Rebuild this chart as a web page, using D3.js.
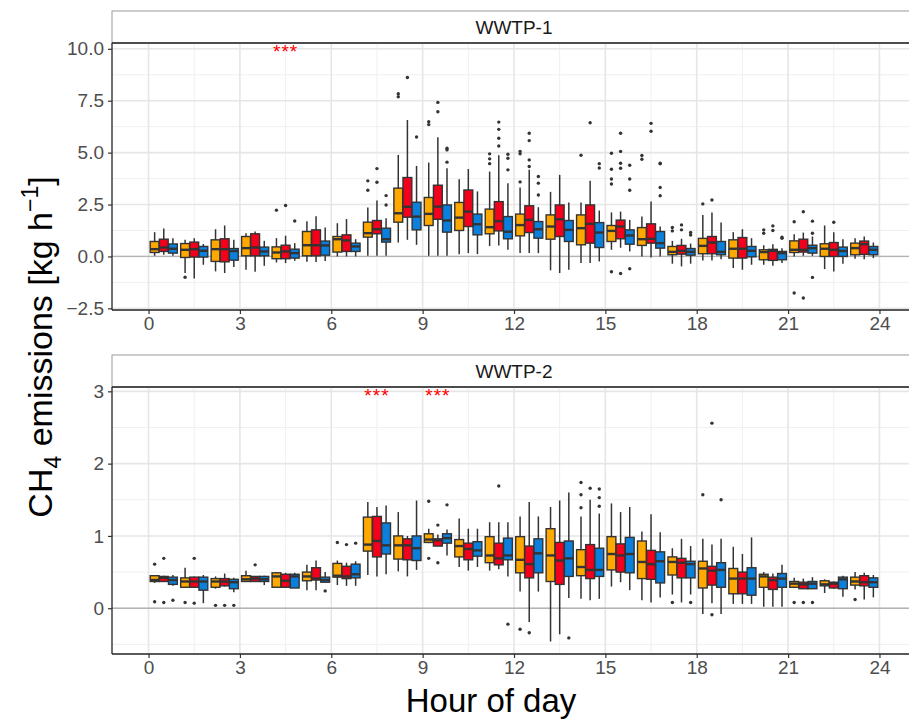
<!DOCTYPE html>
<html>
<head>
<meta charset="utf-8">
<script src="https://cdn.jsdelivr.net/npm/d3@7"></script>
<style>
  body { margin: 0; background: #fff; }
  svg { display: block; font-family: "Liberation Sans", Arial, sans-serif; }
</style>
</head>
<body>
<div id="chart"></div>
<script>
// hours of day (box groups sit at hour + 0.5)
const hours = [0,1,2,3,4,5,6,7,8,9,10,11,12,13,14,15,16,17,18,19,20,21,22,23];
const xTicks = [0,3,6,9,12,15,18,21,24];
const colors = ["#FFA800", "#F2001C", "#0A7FDB"];

// box stats per hour: [lower whisker, q1, median, q3, upper whisker]
const w1Orange = [
  [0.03,0.19,0.35,0.72,1.17],[-0.8,-0.05,0.32,0.62,0.8],[-0.72,-0.24,0.35,0.8,1.31],[-0.64,0.03,0.4,0.96,1.12],
  [-0.29,-0.11,0.19,0.46,0.88],[-0.26,0.03,0.54,1.2,1.7],[0,0.21,0.83,0.96,1.6],[0.03,0.93,1.12,1.65,2.36],
  [0.67,1.65,2.08,3.29,4.89],[0.03,1.49,2.05,2.84,4.52],[0.11,1.25,1.87,2.6,3.72],[0.5,1.09,1.41,2.28,4.09],
  [0.16,0.99,1.51,2.04,3.32],[-0.67,0.83,1.44,2.0,3.11],[-0.32,0.56,1.36,2.0,2.6],[0.32,0.72,1.23,1.49,2.12],
  [0,0.53,0.83,1.39,1.92],[-0.35,0.08,0.22,0.48,0.75],[-0.19,0.13,0.51,0.87,1.99],[-0.56,-0.08,0.37,0.8,1.17],
  [-0.4,-0.16,0.21,0.32,0.54],[0,0.19,0.32,0.75,1.07],[-0.61,0,0.37,0.61,1.49],[-0.11,0.08,0.4,0.64,0.88]
];
const w1Red = [
  [0.08,0.24,0.43,0.83,1.35],[-1.06,-0.03,0.35,0.69,0.88],[-0.8,-0.26,0.35,0.85,1.49],[-0.74,0.03,0.43,1.09,1.2],
  [-0.32,-0.11,0.24,0.54,1.0],[-0.27,0.03,0.54,1.28,1.94],[0,0.24,0.77,1.04,1.8],[0.03,1.09,1.31,1.73,2.69],
  [0.8,1.89,2.39,3.8,6.57],[0.03,1.79,2.4,3.43,5.74],[0.16,1.44,2.16,3.2,4.21],[0.53,1.23,1.7,2.64,4.87],
  [0.16,1.15,1.76,2.44,4.17],[-0.8,0.96,1.79,2.48,3.93],[-0.32,0.64,1.57,2.48,3.65],[0.42,0.85,1.44,1.75,2.16],
  [-0.05,0.64,0.85,1.57,2.64],[-0.48,0.11,0.27,0.53,0.85],[-0.19,0.13,0.67,0.96,2.12],[-0.64,-0.08,0.37,0.91,1.31],
  [-0.45,-0.19,0.27,0.34,0.59],[0.03,0.21,0.32,0.83,1.15],[-0.72,0,0.32,0.67,1.17],[-0.13,0.1,0.59,0.74,0.96]
];
const w1Blue = [
  [0.03,0.16,0.37,0.6,0.88],[-0.4,-0.03,0.27,0.48,0.6],[-0.51,-0.18,0.26,0.38,0.8],[-0.45,0.03,0.24,0.45,0.75],
  [-0.21,-0.08,0.16,0.35,0.64],[-0.22,0.06,0.53,0.74,1.39],[0,0.24,0.48,0.64,0.83],[0.03,0.69,0.83,1.36,1.84],
  [0.56,1.28,1.92,2.61,4.36],[0.03,1.17,1.73,2.48,4.25],[0.11,1.04,1.55,2.04,3.13],[0.32,0.85,1.19,1.92,3.53],
  [0.16,0.88,1.31,1.68,2.37],[-0.64,0.72,1.28,1.73,2.6],[-0.24,0.43,1.15,1.63,2.21],[0.24,0.59,1.01,1.28,1.76],
  [0,0.4,0.64,1.2,1.44],[-0.35,0.06,0.22,0.38,0.62],[-0.13,0.08,0.22,0.72,1.63],[-0.4,-0.02,0.27,0.48,0.88],
  [-0.32,-0.16,0.16,0.24,0.4],[0.03,0.16,0.4,0.54,0.96],[-0.35,0,0.26,0.45,0.83],[-0.08,0.08,0.32,0.48,0.67]
];
// outliers: [hour, value]
const w1OrangeOut = [[1,-1.0],[4,2.23],[7,3.64],[7,3.19],[8,7.84],[8,7.69],[9,6.49],[9,6.35],[11,4.94],[11,4.7],[11,4.47],
  [12,5.06],[12,4.94],[12,3.59],[14,4.87],[15,4.97],[15,4.2],[15,3.73],[15,3.49],[15,-0.74],[16,4.86],[16,4.68],
  [17,1.39],[17,1.23],[18,2.53],[20,1.28],[20,1.12],[21,1.67],[21,-1.76]];
const w1RedOut = [[4,2.45],[7,4.23],[7,3.57],[8,8.62],[9,7.42],[9,6.97],[11,6.47],[11,6.12],[11,5.69],[11,5.32],
  [12,5.93],[12,5.58],[12,4.65],[12,4.33],[14,6.44],[15,5.93],[15,5.06],[15,4.49],[15,4.25],[15,-0.82],[16,6.41],[16,6.03],
  [17,1.52],[17,1.28],[18,2.72],[20,1.47],[20,1.25],[21,2.15],[21,-2.0],[22,1.65]];
const w1BlueOut = [[4,1.71],[7,2.93],[7,2.48],[8,5.75],[9,5.21],[9,5.13],[9,4.54],[11,4.92],[11,4.73],[11,4.17],
  [12,3.85],[12,3.53],[12,2.96],[14,4.47],[14,4.26],[15,4.39],[15,3.73],[15,3.19],[15,-0.59],[16,4.49],[16,4.46],[16,3.32],[16,2.92],
  [17,1.15],[17,1.03],[20,0.93],[20,0.87],[21,1.7],[21,1.12],[21,-1.01]];

const w2Orange = [
  [0.35,0.37,0.39,0.45,0.46],[0.28,0.29,0.37,0.42,0.56],[0.27,0.29,0.37,0.41,0.44],[0.37,0.37,0.4,0.45,0.52],
  [0.29,0.29,0.44,0.49,0.5],[0.25,0.38,0.44,0.5,0.6],[0.32,0.43,0.45,0.62,0.66],[0.46,0.79,0.88,1.26,1.47],
  [0.51,0.68,0.87,1.0,1.33],[0.9,0.91,0.95,1.03,1.1],[0.57,0.71,0.86,0.95,1.24],[0.52,0.63,0.73,0.99,1.19],
  [0.23,0.49,0.67,0.99,1.27],[-0.46,0.37,0.73,1.1,1.4],[0.13,0.45,0.57,0.81,1.27],[0.3,0.53,0.75,0.99,1.45],
  [0.11,0.41,0.64,0.93,1.06],[0.19,0.46,0.64,0.71,0.83],[-0.08,0.28,0.55,0.65,0.96],[0.06,0.2,0.41,0.55,0.85],
  [0.02,0.29,0.44,0.47,0.5],[0.29,0.29,0.34,0.37,0.42],[0.21,0.31,0.33,0.38,0.4],[0.26,0.32,0.37,0.43,0.5]
];
const w2Red = [
  [0.37,0.37,0.42,0.44,0.45],[0.28,0.29,0.37,0.43,0.44],[0.3,0.31,0.37,0.41,0.48],[0.37,0.37,0.41,0.44,0.44],
  [0.29,0.29,0.38,0.47,0.49],[0.25,0.39,0.41,0.56,0.66],[0.31,0.41,0.44,0.58,0.63],[0.44,0.71,0.93,1.27,1.4],
  [0.44,0.67,0.87,0.96,1.0],[0.86,0.86,0.94,0.96,1.02],[0.52,0.67,0.82,0.9,1.1],[0.54,0.6,0.69,0.9,1.19],
  [-0.19,0.42,0.61,0.86,1.47],[-0.36,0.33,0.66,0.91,1.49],[0.11,0.41,0.53,0.88,1.5],[0.36,0.5,0.73,0.89,1.33],
  [0.08,0.4,0.61,0.8,1.3],[0.08,0.42,0.63,0.69,0.96],[0.07,0.32,0.52,0.58,0.88],[0.06,0.2,0.41,0.5,0.75],
  [0.02,0.26,0.39,0.43,0.48],[0.27,0.27,0.33,0.36,0.41],[0.27,0.28,0.34,0.36,0.37],[0.12,0.31,0.36,0.45,0.49]
];
const w2Blue = [
  [0.31,0.33,0.39,0.43,0.46],[0.07,0.25,0.37,0.43,0.46],[0.22,0.27,0.36,0.4,0.42],[0.32,0.37,0.4,0.44,0.45],
  [0.28,0.28,0.44,0.47,0.49],[0.36,0.36,0.39,0.43,0.5],[0.31,0.42,0.47,0.61,0.65],[0.47,0.75,0.87,1.18,1.42],
  [0.53,0.66,0.83,1.0,1.49],[0.73,0.9,0.97,1.03,1.09],[0.57,0.72,0.8,0.92,1.1],[0.44,0.67,0.73,0.97,1.19],
  [0.23,0.49,0.76,0.96,1.27],[0.14,0.44,0.69,0.93,1.6],[0.13,0.44,0.53,0.83,1.31],[0.25,0.49,0.75,0.98,1.4],
  [0.15,0.35,0.65,0.78,1.05],[0.19,0.42,0.61,0.65,0.86],[-0.08,0.29,0.53,0.63,0.96],[0.06,0.18,0.41,0.56,0.98],
  [0.02,0.29,0.41,0.48,0.6],[0.27,0.27,0.34,0.37,0.43],[0.16,0.27,0.4,0.43,0.45],[0.15,0.29,0.36,0.42,0.46]
];
const w2OrangeOut = [[0,0.61],[0,0.09],[1,0.08],[2,0.04],[6,0.91],[9,1.48],[9,0.69],[12,-0.29],[14,1.74],[14,1.57],[14,1.39],
  [17,0.08],[18,1.57],[21,0.08],[23,0.12]];
const w2RedOut = [[0,0.69],[0,0.08],[1,0.69],[1,0.07],[2,0.04],[3,0.6],[6,0.88],[9,1.15],[9,0.63],[11,1.69],[12,-0.34],
  [14,1.66],[18,2.56],[18,-0.09],[21,0.08]];
const w2BlueOut = [[0,0.11],[2,0.04],[5,0.24],[6,0.9],[9,1.43],[11,-0.22],[13,-0.41],[14,1.65],[14,1.53],[14,1.41],
  [17,0.08],[18,1.5],[21,0.08]];

const w1Ticks = [-2.5, 0, 2.5, 5, 7.5, 10];
const w2Ticks = [0, 1, 2, 3];
const w1Sig = [4.5];
const w2Sig = [7.5, 9.5];

const W = 909, H = 722;
const svg = d3.select("#chart").append("svg").attr("width", W).attr("height", H);

const x = d3.scaleLinear().domain([-1.2, 25.2]).range([112, 916]);
const hourW = x(1) - x(0);
const offsets = [-0.3, 0, 0.3];
const boxW = 0.29 * hourW;

function drawPanel(p) {
  const y = d3.scaleLinear().domain(p.yDomain).range([p.bottom, p.top]);
  const g = svg.append("g");

  // strip
  g.append("rect").attr("x", 112).attr("y", p.stripTop).attr("width", 820).attr("height", p.top - p.stripTop)
    .attr("fill", "#fff").attr("stroke", "#9a9a9a").attr("stroke-width", 1);
  g.append("text").attr("x", (112 + 916) / 2).attr("y", (p.stripTop + p.top) / 2 + 7)
    .attr("text-anchor", "middle").attr("font-size", 19).attr("fill", "#1a1a1a").text(p.label);

  // grid
  g.selectAll(".gmy").data(p.minor).enter().append("line")
    .attr("x1", 112).attr("x2", 916).attr("y1", d => y(d)).attr("y2", d => y(d))
    .attr("stroke", "#f0f0f0").attr("stroke-width", 1);
  const minorX = xTicks.slice(0, -1).map(d => d + 1.5);
  g.selectAll(".gmx").data(minorX).enter().append("line")
    .attr("x1", d => x(d)).attr("x2", d => x(d)).attr("y1", p.top).attr("y2", p.bottom)
    .attr("stroke", "#f0f0f0").attr("stroke-width", 1);
  g.selectAll(".gy").data(p.ticks).enter().append("line")
    .attr("x1", 112).attr("x2", 916).attr("y1", d => y(d)).attr("y2", d => y(d))
    .attr("stroke", "#e6e6e6").attr("stroke-width", 1.6);
  g.selectAll(".gx").data(xTicks).enter().append("line")
    .attr("x1", d => x(d)).attr("x2", d => x(d)).attr("y1", p.top).attr("y2", p.bottom)
    .attr("stroke", "#e6e6e6").attr("stroke-width", 1.6);

  // zero line
  g.append("line").attr("x1", 112).attr("x2", 916).attr("y1", y(0)).attr("y2", y(0))
    .attr("stroke", "#b3b3b3").attr("stroke-width", 1.3);

  // boxes
  p.series.forEach((s, si) => {
    const cx = h => x(h + 0.5 + offsets[si]);
    const bg = g.append("g");
    bg.selectAll(".wh").data(hours).enter().append("line")
      .attr("x1", h => cx(h)).attr("x2", h => cx(h))
      .attr("y1", h => y(s.stats[h][0])).attr("y2", h => y(s.stats[h][4]))
      .attr("stroke", "#333").attr("stroke-width", 1.5);
    bg.selectAll(".bx").data(hours).enter().append("rect")
      .attr("x", h => cx(h) - boxW / 2).attr("width", boxW)
      .attr("y", h => y(s.stats[h][3])).attr("height", h => Math.max(1, y(s.stats[h][1]) - y(s.stats[h][3])))
      .attr("fill", colors[si]).attr("stroke", "#333").attr("stroke-width", 1.4);
    bg.selectAll(".md").data(hours).enter().append("line")
      .attr("x1", h => cx(h) - boxW / 2).attr("x2", h => cx(h) + boxW / 2)
      .attr("y1", h => y(s.stats[h][2])).attr("y2", h => y(s.stats[h][2]))
      .attr("stroke", "#333").attr("stroke-width", 2.4);
    bg.selectAll(".ol").data(s.out).enter().append("circle")
      .attr("cx", d => cx(d[0])).attr("cy", d => y(d[1])).attr("r", 1.7)
      .attr("fill", "#333");
  });

  // significance stars
  g.selectAll(".sig").data(p.sig).enter().append("text")
    .attr("x", d => x(d)).attr("y", y(p.sigY) + 9)
    .attr("text-anchor", "middle").attr("font-size", 19).attr("letter-spacing", 1).attr("fill", "#FF0000")
    .text("***");

  // axes lines
  g.append("line").attr("x1", 112).attr("x2", 916).attr("y1", p.top).attr("y2", p.top)
    .attr("stroke", "#222").attr("stroke-width", 1.3);
  g.append("line").attr("x1", 112).attr("x2", 112).attr("y1", p.top).attr("y2", p.bottom)
    .attr("stroke", "#222").attr("stroke-width", 1.3);
  g.append("line").attr("x1", 112).attr("x2", 916).attr("y1", p.bottom).attr("y2", p.bottom)
    .attr("stroke", "#222").attr("stroke-width", 1.3);

  const yAxis = g.append("g").attr("transform", "translate(112,0)")
    .call(d3.axisLeft(y).tickValues(p.ticks).tickSize(4).tickPadding(4).tickFormat(p.fmt));
  yAxis.select(".domain").remove();
  yAxis.selectAll("line").attr("stroke", "#333").attr("stroke-width", 1.2);
  yAxis.selectAll("text").attr("font-size", 19).attr("fill", "#4d4d4d").attr("font-family", "Liberation Sans, Arial, sans-serif");

  const xAxis = g.append("g").attr("transform", `translate(0,${p.bottom})`)
    .call(d3.axisBottom(x).tickValues(xTicks).tickSize(4).tickPadding(3).tickFormat(d3.format("d")));
  xAxis.select(".domain").remove();
  xAxis.selectAll("line").attr("stroke", "#333").attr("stroke-width", 1.2);
  xAxis.selectAll("text").attr("font-size", 19).attr("fill", "#4d4d4d").attr("font-family", "Liberation Sans, Arial, sans-serif");
}

drawPanel({
  label: "WWTP-1", stripTop: 11, top: 43, bottom: 310, yDomain: [-2.58, 10.28],
  ticks: w1Ticks, minor: [-1.25, 1.25, 3.75, 6.25, 8.75], fmt: d3.format(".1f"),
  sig: w1Sig, sigY: 10.0,
  series: [{ stats: w1Orange, out: w1OrangeOut }, { stats: w1Red, out: w1RedOut }, { stats: w1Blue, out: w1BlueOut }]
});
drawPanel({
  label: "WWTP-2", stripTop: 355, top: 387, bottom: 654, yDomain: [-0.633, 3.06],
  ticks: w2Ticks, minor: [-0.5, 0.5, 1.5, 2.5], fmt: d3.format("d"),
  sig: w2Sig, sigY: 2.98,
  series: [{ stats: w2Orange, out: w2OrangeOut }, { stats: w2Red, out: w2RedOut }, { stats: w2Blue, out: w2BlueOut }]
});

// axis titles
svg.append("text").attr("x", 491).attr("y", 712)
  .attr("text-anchor", "middle").attr("font-size", 33).attr("fill", "#000").text("Hour of day");

const yt = svg.append("text").attr("transform", "translate(52,347) rotate(-90)")
  .attr("text-anchor", "middle").attr("font-size", 34).attr("fill", "#000");
yt.append("tspan").text("CH");
yt.append("tspan").attr("font-size", 23).attr("dy", 9).text("4");
yt.append("tspan").attr("dy", -9).text(" emissions [kg h");
yt.append("tspan").attr("font-size", 23).attr("dy", -14).text("−1");
yt.append("tspan").attr("dy", 14).text("]");
</script>
</body>
</html>
